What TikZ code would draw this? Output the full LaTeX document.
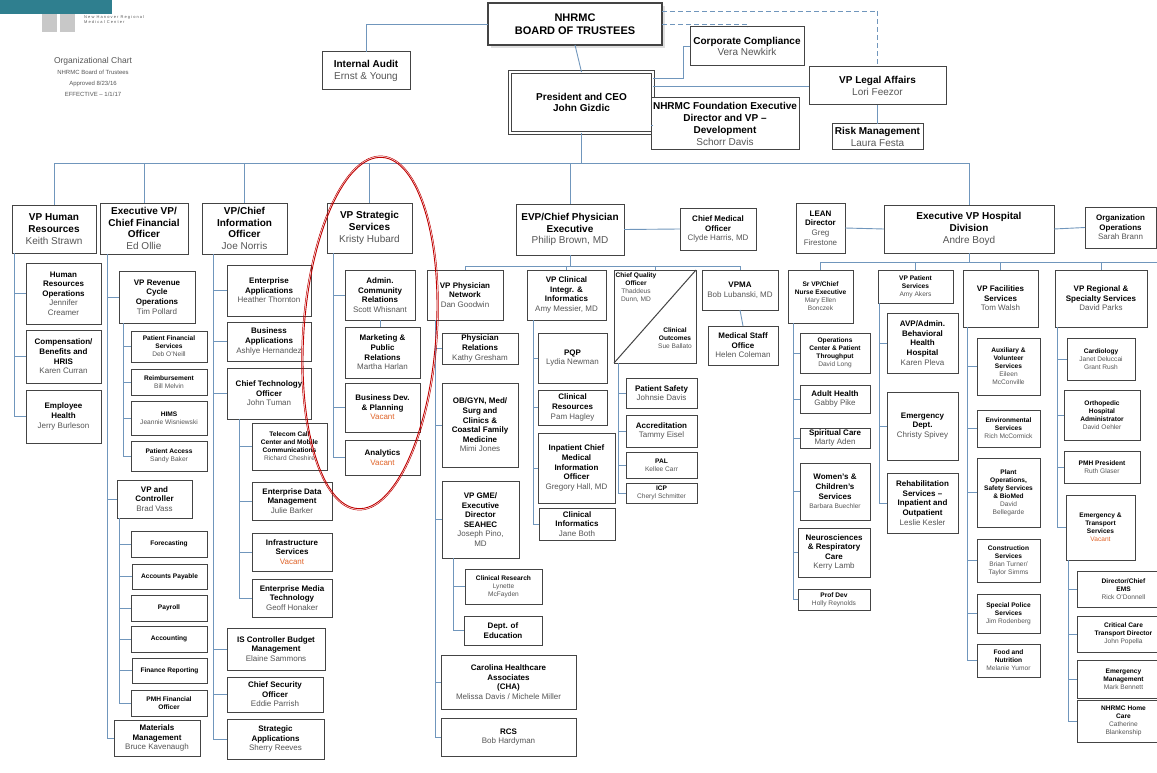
\documentclass[tikz,border=0pt]{standalone}
\usepackage{fontspec}
\setmainfont{Liberation Sans}
\usetikzlibrary{shadows}
\definecolor{nm}{HTML}{555555}
\definecolor{lnc}{HTML}{7096BC}
\definecolor{bd}{HTML}{444444}
\definecolor{vac}{HTML}{E0642A}
\definecolor{teal}{HTML}{2F7F8F}
\definecolor{lgr}{HTML}{C8C8C8}
\newcommand\fA{\fontsize{10}{11.8}\selectfont}
\newcommand\fB{\fontsize{8}{9.6}\selectfont}
\newcommand\fC{\fontsize{6.6}{8}\selectfont}
\newcommand\nm[1]{{\mdseries\color{nm}#1}}
\newcommand\vac{{\mdseries\color{vac}Vacant}}
\newcommand\bx[8][]{\node[box,#1,font=#7,minimum width={#5-#3},minimum height={#6-#4}] (#2) at ({(#3+#5)/2},{(#4+#6)/2}) {#8};}
\tikzset{
 box/.style={draw=bd,line width=1pt,fill=white,align=center,inner sep=1pt,outer sep=0pt},
 ln/.style={draw=lnc,line width=0.9pt},
 dln/.style={draw=lnc,line width=0.9pt,dash pattern=on 5pt off 3pt},
}
\begin{document}
\begin{tikzpicture}[x=1pt,y=-1pt]
\useasboundingbox (0,0) rectangle (1157,773);
% logo
\fill[teal] (0,0) rectangle (112,14);
\fill[lgr] (42,14) rectangle (57,32);
\fill[lgr] (60,14) rectangle (75,32);
\node[anchor=west,font=\fontsize{4}{5}\selectfont,color=nm,align=left,inner sep=0] (logotxt) at (84,20) {N e w\ \ H a n o v e r\ \ R e g i o n a l\\M e d i c a l\ \ C e n t e r};
\node[align=center,color=nm,inner sep=0] (title) at (93,77) {{\fontsize{8.5}{10}\selectfont Organizational Chart}\\[-1pt]{\fontsize{6}{8.5}\selectfont NHRMC Board of Trustees}\\[-1pt]{\fontsize{6}{8.5}\selectfont Approved 8/23/16}\\[-1pt]{\fontsize{6}{8.5}\selectfont EFFECTIVE -- 1/1/17}};
% ---------- top
\bx[line width=2.2pt,drop shadow={opacity=0.25}]{board}{488}{3}{662}{45}{\fontsize{11}{13}\selectfont\bfseries}{NHRMC\\BOARD OF TRUSTEES}
\bx{audit}{322}{52}{410}{90}{\fA\bfseries}{Internal Audit\\\nm{Ernst \& Young}}
\bx[double=white,double distance=1.5pt,line width=0.9pt]{pres}{510}{72}{653}{133}{\fA\bfseries}{President and CEO\\John Gizdic}
\bx{comp}{690}{27}{804}{66}{\fA\bfseries}{Corporate Compliance\\\nm{Vera Newkirk}}
\bx{legal}{809}{67}{946}{105}{\fA\bfseries}{VP Legal Affairs\\\nm{Lori Feezor}}
\bx{found}{651}{98}{799}{150}{\fA\bfseries}{NHRMC Foundation Executive\\Director and VP --\\Development\\\nm{Schorr Davis}}
\bx{risk}{832}{124}{923}{150}{\fA\bfseries}{Risk Management\\\nm{Laura Festa}}
\draw[dln] ([yshift=-8pt]board.north east) -| (legal.north);
\draw[dln] ([yshift=-21pt]board.north east) -| (comp.north);
\draw[ln] (board.south) -- (pres.north);
\draw[ln] (board.west) -| (audit.north);
\draw[ln] ([yshift=-6pt]pres.north east) -- ++(30,0) |- (comp.west);
\draw[ln] ([yshift=-14pt]pres.north east) -- (legal.west |- {0,86});
\draw[ln] ([yshift=8pt]pres.south east) -- (found.west |- {0,125});
\draw[ln] (legal.south) -- (risk.north);
% ---------- level 2
\bx{hr}{12}{205}{96}{253}{\fA\bfseries}{VP Human\\Resources\\\nm{Keith Strawn}}
\bx{cfo}{100}{203}{188}{254}{\fA\bfseries}{Executive VP/\\Chief Financial\\Officer\\\nm{Ed Ollie}}
\bx{cio}{202}{203}{287}{254}{\fA\bfseries}{VP/Chief\\Information\\Officer\\\nm{Joe Norris}}
\bx{vpss}{327}{203}{412}{253}{\fA\bfseries}{VP Strategic\\Services\\\nm{Kristy Hubard}}
\bx{evpp}{516}{204}{624}{255}{\fA\bfseries}{EVP/Chief Physician\\Executive\\\nm{Philip Brown, MD}}
\bx{cmo}{680}{208}{756}{250}{\fB\bfseries}{Chief Medical\\Officer\\\nm{Clyde Harris, MD}}
\bx{lean}{796}{203}{845}{253}{\fB\bfseries}{LEAN\\Director\\\nm{Greg}\\\nm{Firestone}}
\bx{evph}{884}{205}{1054}{253}{\fA\bfseries}{Executive VP Hospital\\Division\\\nm{Andre Boyd}}
\bx{orgops}{1085}{207}{1156}{248}{\fB\bfseries}{Organization\\Operations\\\nm{Sarah Brann}}
\coordinate (busY) at (0,163);
\draw[ln] (pres.south) -- (pres.south |- busY);
\draw[ln] (hr.north |- busY) -- (evph.north |- busY);
\foreach \n in {hr,cfo,cio,vpss,evpp,evph} \draw[ln] (\n.north) -- (\n.north |- busY);
\draw[ln] (evpp.east) -- (cmo.west);
\draw[ln] (lean.east) -- (evph.west);
\draw[ln] (evph.east) -- (orgops.west);
% ---------- HR
\bx{hrops}{26}{263}{101}{324}{\fB\bfseries}{Human\\Resources\\Operations\\\nm{Jennifer}\\\nm{Creamer}}
\bx{hrcomp}{26}{330}{101}{383}{\fB\bfseries}{Compensation/\\Benefits and\\HRIS\\\nm{Karen Curran}}
\bx{emph}{26}{390}{101}{443}{\fB\bfseries}{Employee\\Health\\\nm{Jerry Burleson}}
\foreach \c in {hrops,hrcomp,emph} \draw[ln] ([xshift=2pt]hr.south west) |- (\c.west);
% ---------- CFO
\bx{revc}{119}{271}{195}{323}{\fB\bfseries}{VP Revenue\\Cycle\\Operations\\\nm{Tim Pollard}}
\bx{pfs}{131}{331}{207}{362}{\fC\bfseries}{Patient Financial\\Services\\\nm{Deb O'Neill}}
\bx{reimb}{131}{369}{207}{395}{\fC\bfseries}{Reimbursement\\\nm{Bill Melvin}}
\bx{hims}{131}{401}{207}{435}{\fC\bfseries}{HIMS\\\nm{Jeannie Wisniewski}}
\bx{pacc}{131}{441}{207}{471}{\fC\bfseries}{Patient Access\\\nm{Sandy Baker}}
\bx{vpctl}{117}{480}{192}{518}{\fB\bfseries}{VP and\\Controller\\\nm{Brad Vass}}
\bx{fore}{131}{531}{207}{557}{\fC\bfseries}{Forecasting}
\bx{acpay}{132}{564}{207}{589}{\fC\bfseries}{Accounts Payable}
\bx{payr}{131}{595}{207}{621}{\fC\bfseries}{Payroll}
\bx{acct}{131}{626}{207}{652}{\fC\bfseries}{Accounting}
\bx{finrep}{132}{658}{207}{683}{\fC\bfseries}{Finance Reporting}
\bx{pmhfo}{131}{690}{207}{716}{\fC\bfseries}{PMH Financial\\Officer}
\bx{matm}{114}{720}{200}{756}{\fB\bfseries}{Materials\\Management\\\nm{Bruce Kavenaugh}}
\foreach \c in {revc,vpctl,matm} \draw[ln] ([xshift=7pt]cfo.south west) |- (\c.west);
\foreach \c in {pfs,reimb,hims,pacc} \draw[ln] ([xshift=4pt]revc.south west) |- (\c.west);
\foreach \c in {fore,acpay,payr,acct,finrep,pmhfo} \draw[ln] ([xshift=2pt]vpctl.south west) |- (\c.west);
% ---------- CIO
\bx{entapp}{227}{265}{311}{316}{\fB\bfseries}{Enterprise\\Applications\\\nm{Heather Thornton}}
\bx{busapp}{227}{322}{311}{361}{\fB\bfseries}{Business\\Applications\\\nm{Ashlye Hernandez}}
\bx{cto}{227}{368}{311}{419}{\fB\bfseries}{Chief Technology\\Officer\\\nm{John Tuman}}
\bx{tele}{252}{423}{327}{470}{\fC\bfseries}{Telecom Call\\Center and Mobile\\Communications\\\nm{Richard Cheshire}}
\bx{edm}{252}{482}{332}{520}{\fB\bfseries}{Enterprise Data\\Management\\\nm{Julie Barker}}
\bx{infra}{252}{533}{332}{571}{\fB\bfseries}{Infrastructure\\Services\\\vac}
\bx{emt}{252}{579}{332}{617}{\fB\bfseries}{Enterprise Media\\Technology\\\nm{Geoff Honaker}}
\bx{iscb}{227}{628}{325}{670}{\fB\bfseries}{IS Controller Budget\\Management\\\nm{Elaine Sammons}}
\bx{cso}{227}{677}{323}{712}{\fB\bfseries}{Chief Security\\Officer\\\nm{Eddie Parrish}}
\bx{strapp}{227}{719}{324}{759}{\fB\bfseries}{Strategic\\Applications\\\nm{Sherry Reeves}}
\foreach \c in {entapp,busapp,cto,iscb,cso,strapp} \draw[ln] ([xshift=11pt]cio.south west) |- (\c.west);
\foreach \c in {tele,edm,infra,emt} \draw[ln] ([xshift=12pt]cto.south west) |- (\c.west);
% ---------- Strategic
\bx{acr}{345}{270}{415}{320}{\fB\bfseries}{Admin.\\Community\\Relations\\\nm{Scott Whisnant}}
\bx{mpr}{345}{327}{420}{378}{\fB\bfseries}{Marketing \&\\Public\\Relations\\\nm{Martha Harlan}}
\bx{bdp}{345}{383}{420}{432}{\fB\bfseries}{Business Dev.\\\& Planning\\\vac}
\bx{anly}{345}{440}{420}{475}{\fB\bfseries}{Analytics\\\vac}
\draw[ln] (acr.south) -- (acr.south |- mpr.north);
\foreach \c in {acr,bdp,anly} \draw[ln] ([xshift=6pt]vpss.south west) |- (\c.west);
% ---------- EVP Physician
\bx{vppn}{427}{270}{503}{320}{\fB\bfseries}{VP Physician\\Network\\\nm{Dan Goodwin}}
\bx{vpci}{527}{270}{606}{320}{\fB\bfseries}{VP Clinical\\Integr. \&\\Informatics\\\nm{Amy Messier, MD}}
\node[draw=bd,line width=1pt,fill=white,minimum width=82pt,minimum height=93pt,inner sep=0,outer sep=0] (cqo) at (655,316.5) {};
\draw[bd,line width=1pt] (cqo.south west) -- (cqo.north east);
\node[font=\fC\bfseries,align=center,inner sep=0] (cqot) at (636,288) {Chief Quality\\Officer\\\nm{Thaddeus}\\\nm{Dunn, MD}};
\node[font=\fC\bfseries,align=center,inner sep=0] (cqob) at (675,338) {Clinical\\Outcomes\\\nm{Sue Ballato}};
\bx{vpma}{702}{270}{778}{310}{\fB\bfseries}{VPMA\\\nm{Bob Lubanski, MD}}
\bx{mso}{708}{326}{778}{365}{\fB\bfseries}{Medical Staff\\Office\\\nm{Helen Coleman}}
\coordinate (pY) at (0,266);
\draw[ln] (evpp.south) -- (evpp.south |- pY);
\draw[ln] (vppn.north |- pY) -- (vpma.north |- pY);
\foreach \n in {vppn,vpci,cqo,vpma} \draw[ln] (\n.north |- pY) -- (\n.north);
\draw[ln] (vpma.south) -- (mso.north);
\bx{phrel}{442}{333}{518}{364}{\fB\bfseries}{Physician\\Relations\\\nm{Kathy Gresham}}
\bx{obgyn}{442}{383}{518}{467}{\fB\bfseries}{OB/GYN, Med/\\Surg and\\Clinics \&\\Coastal Family\\Medicine\\\nm{Mimi Jones}}
\bx{vpgme}{442}{481}{519}{558}{\fB\bfseries}{VP GME/\\Executive\\Director\\SEAHEC\\\nm{Joseph Pino,}\\\nm{MD}}
\bx{clres}{465}{569}{542}{604}{\fC\bfseries}{Clinical Research\\\nm{Lynette}\\\nm{McFayden}}
\bx{dedu}{464}{616}{542}{645}{\fB\bfseries}{Dept. of\\Education}
\bx{cha}{441}{655}{576}{709}{\fB\bfseries}{Carolina Healthcare\\Associates\\(CHA)\\\nm{Melissa Davis / Michele Miller}}
\bx{rcs}{441}{718}{576}{756}{\fB\bfseries}{RCS\\\nm{Bob Hardyman}}
\foreach \c in {phrel,obgyn,vpgme,cha,rcs} \draw[ln] ([xshift=8pt]vppn.south west) |- (\c.west);
\foreach \c in {clres,dedu} \draw[ln] ([xshift=11pt]vpgme.south west) |- (\c.west);
\bx{pqp}{538}{333}{607}{383}{\fB\bfseries}{PQP\\\nm{Lydia Newman}}
\bx{clr}{538}{390}{607}{425}{\fB\bfseries}{Clinical\\Resources\\\nm{Pam Hagley}}
\bx{icmio}{538}{433}{615}{503}{\fB\bfseries}{Inpatient Chief\\Medical\\Information\\Officer\\\nm{Gregory Hall, MD}}
\bx{clinf}{539}{508}{615}{540}{\fB\bfseries}{Clinical\\Informatics\\\nm{Jane Both}}
\foreach \c in {pqp,clr,icmio,clinf} \draw[ln] ([xshift=6pt]vpci.south west) |- (\c.west);
\bx{psaf}{626}{378}{697}{408}{\fB\bfseries}{Patient Safety\\\nm{Johnsie Davis}}
\bx{accr}{626}{415}{697}{447}{\fB\bfseries}{Accreditation\\\nm{Tammy Eisel}}
\bx{pal}{626}{452}{697}{478}{\fC\bfseries}{PAL\\\nm{Kellee Carr}}
\bx{icp}{626}{483}{697}{503}{\fC\bfseries}{ICP\\\nm{Cheryl Schmitter}}
\foreach \c in {psaf,accr,pal,icp} \draw[ln] ([xshift=4pt]cqo.south west) |- (\c.west);
% ---------- EVP Hospital
\bx{srvp}{788}{270}{853}{323}{\fC\bfseries}{Sr VP/Chief\\Nurse Executive\\\nm{Mary Ellen}\\\nm{Bonczek}}
\bx{vpps}{878}{270}{953}{303}{\fC\bfseries}{VP Patient\\Services\\\nm{Amy Akers}}
\bx{vpfs}{963}{270}{1038}{327}{\fB\bfseries}{VP Facilities\\Services\\\nm{Tom Walsh}}
\bx{vprs}{1055}{270}{1147}{327}{\fB\bfseries}{VP Regional \&\\Specialty Services\\\nm{David Parks}}
\coordinate (hY) at (0,262);
\draw[ln] (evph.south) -- (evph.south |- hY);
\draw[ln] (srvp.north |- hY) -- (1157,262);
\foreach \n in {srvp,vpps,vpfs,vprs} \draw[ln] (\n.north |- hY) -- (\n.north);
\bx{opc}{800}{333}{870}{373}{\fC\bfseries}{Operations\\Center \& Patient\\Throughput\\\nm{David Long}}
\bx{adh}{800}{385}{870}{413}{\fB\bfseries}{Adult Health\\\nm{Gabby Pike}}
\bx{spc}{800}{428}{870}{448}{\fB\bfseries}{Spiritual Care\\\nm{Marty Aden}}
\bx{wcs}{800}{463}{870}{520}{\fB\bfseries}{Women's \&\\Children's\\Services\\\nm{\fC Barbara Buechler}}
\bx{neur}{798}{528}{870}{577}{\fB\bfseries}{Neurosciences\\\& Respiratory\\Care\\\nm{Kerry Lamb}}
\bx{pdev}{798}{589}{870}{610}{\fC\bfseries}{Prof Dev\\\nm{Holly Reynolds}}
\foreach \c in {opc,adh,spc,wcs,neur,pdev} \draw[ln] ([xshift=5pt]srvp.south west) |- (\c.west);
\bx{avpb}{887}{313}{958}{373}{\fB\bfseries}{AVP/Admin.\\Behavioral\\Health\\Hospital\\\nm{Karen Pleva}}
\bx{emd}{887}{392}{958}{460}{\fB\bfseries}{Emergency\\Dept.\\\nm{Christy Spivey}}
\bx{rehab}{887}{473}{958}{533}{\fB\bfseries}{Rehabilitation\\Services --\\Inpatient and\\Outpatient\\\nm{Leslie Kesler}}
\foreach \c in {avpb,emd,rehab} \draw[ln] ([xshift=1pt]vpps.south west) |- (\c.west);
\bx{aux}{977}{338}{1040}{395}{\fC\bfseries}{Auxiliary \&\\Volunteer\\Services\\\nm{Eileen}\\\nm{McConville}}
\bx{envs}{977}{410}{1040}{447}{\fC\bfseries}{Environmental\\Services\\\nm{Rich McCormick}}
\bx{plant}{977}{458}{1040}{527}{\fC\bfseries}{Plant\\Operations,\\Safety Services\\\& BioMed\\\nm{David}\\\nm{Bellegarde}}
\bx{cons}{977}{539}{1040}{582}{\fC\bfseries}{Construction\\Services\\\nm{Brian Turner/}\\\nm{Taylor Simms}}
\bx{spol}{977}{594}{1040}{633}{\fC\bfseries}{Special Police\\Services\\\nm{Jim Rodenberg}}
\bx{food}{977}{644}{1040}{677}{\fC\bfseries}{Food and\\Nutrition\\\nm{Melanie Yumor}}
\foreach \c in {aux,envs,plant,cons,spol,food} \draw[ln] ([xshift=4pt]vpfs.south west) |- (\c.west);
\bx{card}{1067}{338}{1135}{380}{\fC\bfseries}{Cardiology\\\nm{Janet Deluccai}\\\nm{Grant Rush}}
\bx{ortho}{1064}{390}{1140}{440}{\fC\bfseries}{Orthopedic\\Hospital\\Administrator\\\nm{David Oehler}}
\bx{pmhp}{1064}{451}{1140}{483}{\fC\bfseries}{PMH President\\\nm{Ruth Glaser}}
\bx{ets}{1066}{495}{1135}{560}{\fC\bfseries}{Emergency \&\\Transport\\Services\\\vac}
\bx{ems}{1077}{571}{1170}{607}{\fC\bfseries}{Director/Chief\\EMS\\\nm{Rick O'Donnell}}
\bx{cct}{1077}{616}{1170}{652}{\fC\bfseries}{Critical Care\\Transport Director\\\nm{John Popella}}
\bx{emm}{1077}{660}{1170}{698}{\fC\bfseries}{Emergency\\Management\\\nm{Mark Bennett}}
\bx{home}{1077}{700}{1170}{742}{\fC\bfseries}{NHRMC Home\\Care\\\nm{Catherine}\\\nm{Blankenship}}
\foreach \c in {card,ortho,pmhp,ets} \draw[ln] ([xshift=2pt]vprs.south west) |- (\c.west);
\foreach \c in {ems,cct,emm,home} \draw[ln] ([xshift=2pt]ets.south west) |- (\c.west);
% red ellipse
\draw[red!75!black,line width=0.9pt,rotate around={-4:(370,333)}] (370,333) ellipse [x radius=66, y radius=176];
\draw[red!75!black,line width=0.5pt,rotate around={-4:(370,333)}] (370,333) ellipse [x radius=67.5, y radius=177.5];
\end{tikzpicture}
\end{document}
